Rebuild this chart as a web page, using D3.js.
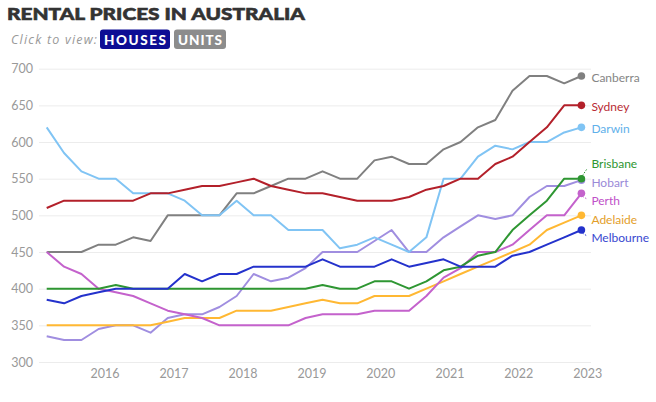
<!DOCTYPE html>
<html><head><meta charset="utf-8">
<script src="https://cdn.jsdelivr.net/npm/d3@7"></script>
<style>
html,body{margin:0;padding:0;background:#fff;}
svg{display:block;font-family:Lato,"Open Sans",sans-serif;}
</style></head>
<body><svg id="c" width="656" height="402"></svg>
<script>
const dates = ["2015-03-01","2015-06-01","2015-09-01","2015-12-01","2016-03-01","2016-06-01","2016-09-01","2016-12-01",
"2017-03-01","2017-06-01","2017-09-01","2017-12-01","2018-03-01","2018-06-01","2018-09-01","2018-12-01",
"2019-03-01","2019-06-01","2019-09-01","2019-12-01","2020-03-01","2020-06-01","2020-09-01","2020-12-01",
"2021-03-01","2021-06-01","2021-09-01","2021-12-01","2022-03-01","2022-06-01","2022-09-01","2022-12-01"];

const canberra  = [450,450,450,460,460,470,465,500,500,500,500,530,530,540,550,550,560,550,550,575,580,570,570,590,600,620,630,670,690,690,680,690];
const sydney    = [510,520,520,520,520,520,530,530,535,540,540,545,550,540,535,530,530,525,520,520,520,525,535,540,550,550,570,580,600,620,650,650];
const darwin    = [620,585,560,550,550,530,530,530,520,500,500,520,500,500,480,480,480,455,460,470,460,450,470,550,550,580,595,590,600,600,613,620];
const brisbane  = [400,400,400,400,405,400,400,400,400,400,400,400,400,400,400,400,405,400,400,410,410,400,410,425,430,445,450,480,500,520,550,550];
const hobart    = [335,330,330,345,350,350,340,360,365,365,375,390,420,410,415,428,450,450,450,465,480,450,450,470,485,500,495,500,525,540,540,548];
const perth     = [450,430,420,400,395,390,380,370,365,360,350,350,350,350,350,360,365,365,365,370,370,370,390,415,428,450,450,460,480,500,500,530];
const adelaide  = [350,350,350,350,350,350,350,355,360,360,360,370,370,370,375,380,385,380,380,390,390,390,400,410,420,430,440,450,460,480,490,500];
const melbourne = [385,380,390,395,400,400,400,400,420,410,420,420,430,430,430,430,440,430,430,430,440,430,435,440,430,430,430,445,450,460,470,480];

const cityNames  = ["Hobart","Canberra","Darwin","Adelaide","Perth","Brisbane","Sydney","Melbourne"];
const cityValues = [hobart, canberra, darwin, adelaide, perth, brisbane, sydney, melbourne];
const cityColors = ["#a08ee0","#808080","#80c4f4","#ffb833","#c462cc","#2e9632","#b3202a","#2432cc"];
const labelColors= ["#9a8ad8","#858585","#5fb0ea","#e39e2a","#c050c8","#2e9632","#b82a34","#3848d0"];
const yTicks = [300,350,400,450,500,550,600,650,700];
const xTicks = ["2016","2017","2018","2019","2020","2021","2022","2023"];

const parse = d3.timeParse("%Y-%m-%d");
const dts = dates.map(parse);
const svg = d3.select("#c");

const x = d3.scaleTime().domain([dts[0], dts[dts.length-1]]).range([46.7, 581.4]);
const y = d3.scaleLinear().domain([300,700]).range([362, 68.7]);

// title
svg.append("text").attr("x",7).attr("y",20).attr("font-size",17.5).attr("font-weight",900)
  .attr("fill","#333").attr("stroke","#333").attr("stroke-width",0.6)
  .attr("textLength",298).attr("lengthAdjust","spacingAndGlyphs")
  .text("RENTAL PRICES IN AUSTRALIA");
svg.append("text").attr("x",11).attr("y",44).attr("font-size",12.5).attr("font-style","italic").attr("font-weight",400)
  .attr("font-family","'Open Sans',sans-serif")
  .attr("fill","#999").attr("textLength",86).text("Click to view:");
svg.append("rect").attr("x",100).attr("y",29.5).attr("width",70).attr("height",19.5).attr("rx",3).attr("fill","#0d0d94");
svg.append("rect").attr("x",174).attr("y",29.5).attr("width",52).attr("height",19.5).attr("rx",3).attr("fill","#8c8c8c");
svg.append("text").attr("x",135).attr("y",44.5).attr("text-anchor","middle").attr("font-size",13.5).attr("font-weight",900)
  .attr("fill","#fff").attr("textLength",62).text("HOUSES");
svg.append("text").attr("x",200).attr("y",44.5).attr("text-anchor","middle").attr("font-size",13.5).attr("font-weight",900)
  .attr("fill","#fff").attr("textLength",44).text("UNITS");

// y grid + labels
const yAxis = d3.axisLeft(y).tickValues(yTicks).tickSize(-552).tickPadding(6);
const gy = svg.append("g").attr("transform","translate(39,0)").call(yAxis);
gy.select(".domain").remove();
gy.selectAll(".tick line").attr("stroke","#ececec").attr("stroke-width",1);
gy.selectAll(".tick text").attr("fill","#999").attr("font-size",12.5).attr("font-family","Lato,'Open Sans',sans-serif");

// x axis labels
const xAxis = d3.axisBottom(x).tickValues(xTicks.map(t=>parse(t+"-01-01"))).tickFormat(d3.timeFormat("%Y")).tickSize(0).tickPadding(0);
const gx = svg.append("g").attr("transform","translate(0,370)").call(xAxis);
gx.select(".domain").remove();
gx.selectAll(".tick text").attr("fill","#999").attr("font-size",12.5).attr("font-family","Lato,'Open Sans',sans-serif").attr("dy","0.71em").attr("y",-1);

// lines
const line = d3.line().x((d,i)=>x(dts[i])).y(d=>y(d));
cityValues.forEach((vals,k)=>{
  svg.append("path").datum(vals).attr("d",line).attr("fill","none")
    .attr("stroke",cityColors[k]).attr("stroke-width",2).attr("stroke-linejoin","round");
});
cityValues.forEach((vals,k)=>{
  svg.append("circle").attr("cx",x(dts[dts.length-1])).attr("cy",y(vals[vals.length-1])).attr("r",3.8).attr("fill",cityColors[k]);
});

// labels with simple dodge
const gap = 18.5;
let items = cityNames.map((n,k)=>({k, target:y(cityValues[k][cityValues[k].length-1])+1.7}));
items.sort((a,b)=>a.target-b.target);
let clusters = items.map(it=>({items:[it], mean:it.target}));
function pos(c){ return c.mean - (c.items.length-1)/2*gap; }
let changed = true;
while(changed){
  changed=false;
  for(let i=0;i<clusters.length-1;i++){
    const a=clusters[i], b=clusters[i+1];
    const aEnd = pos(a)+(a.items.length-1)*gap;
    if(pos(b)-aEnd < gap){
      const its=a.items.concat(b.items);
      clusters.splice(i,2,{items:its, mean:d3.mean(its,d=>d.target)});
      changed=true; break;
    }
  }
}
clusters.forEach(c=>{ c.items.forEach((it,j)=>{ it.ly = pos(c)+j*gap; }); });
const xEnd = x(dts[dts.length-1]);
items.forEach(it=>{
  const ty = it.target-1.7;
  if(Math.abs(it.ly-it.target)>4){
    svg.append("line").attr("x1",xEnd+1).attr("y1",ty+(it.ly>ty?3:-3)).attr("x2",xEnd+6).attr("y2",it.ly+(it.ly>ty?-2:4))
      .attr("stroke",cityColors[it.k]).attr("stroke-width",1).attr("stroke-dasharray","1.5,1.5");
  }
  svg.append("text").attr("x",xEnd+10).attr("y",it.ly).attr("dy","0.35em").attr("font-size",12)
    .attr("fill",labelColors[it.k]).text(cityNames[it.k]);
});
</script></body></html>
